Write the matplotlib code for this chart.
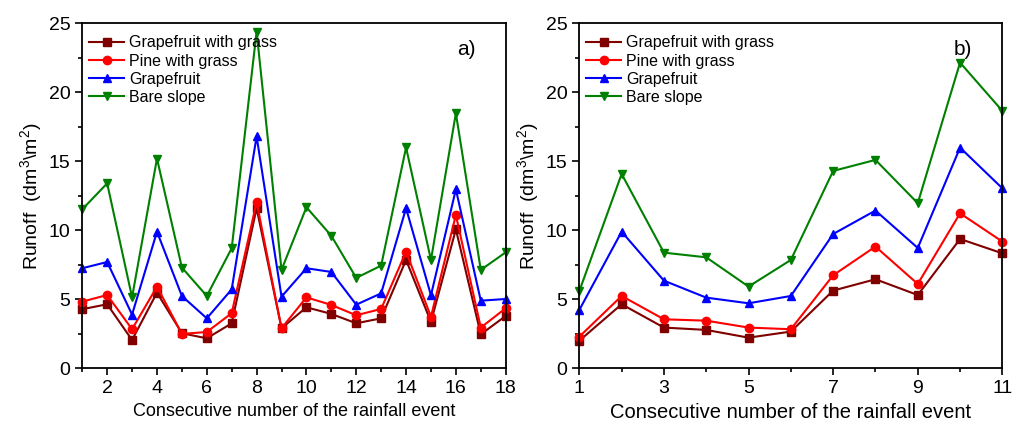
import numpy as np
import matplotlib
matplotlib.use("Agg")
import matplotlib.pyplot as plt
from matplotlib.ticker import MultipleLocator

plt.rcParams["font.family"] = ["Liberation Sans", "DejaVu Sans"]
plt.rcParams["mathtext.fontset"] = "custom"
plt.rcParams["mathtext.rm"] = "Liberation Sans"

# panel a)
events_a = np.arange(1, 19)
gwg_a = [4.28, 4.64, 2.05, 5.48, 2.54, 2.17, 3.26, 11.6, 2.9, 4.42, 3.94, 3.26, 3.62, 7.85, 3.36, 10.07, 2.46, 3.79]
pwg_a = [4.83, 5.31, 2.83, 5.92, 2.49, 2.63, 3.99, 12.05, 2.9, 5.14, 4.59, 3.84, 4.3, 8.45, 3.74, 11.11, 2.95, 4.35]
gf_a = [7.25, 7.7, 3.89, 9.9, 5.24, 3.62, 5.72, 16.8, 5.19, 7.25, 6.98, 4.61, 5.43, 11.6, 5.29, 12.97, 4.9, 5.02]
bare_a = [11.52, 13.4, 5.14, 15.2, 7.3, 5.24, 8.7, 24.4, 7.13, 11.67, 9.6, 6.55, 7.44, 16.0, 7.85, 18.48, 7.13, 8.4]

# panel b)
events_b = np.arange(1, 12)
gwg_b = [2.0, 4.64, 2.95, 2.78, 2.22, 2.66, 5.63, 6.45, 5.31, 9.37, 8.33]
pwg_b = [2.29, 5.24, 3.55, 3.45, 2.95, 2.83, 6.74, 8.82, 6.11, 11.23, 9.18]
gf_b = [4.23, 9.9, 6.35, 5.12, 4.71, 5.24, 9.73, 11.43, 8.72, 15.99, 13.04]
bare_b = [5.6, 14.08, 8.38, 8.04, 5.92, 7.85, 14.3, 15.1, 11.96, 22.15, 18.65]

labels = ["Grapefruit with grass", "Pine with grass", "Grapefruit", "Bare slope"]
colors = ["#800000", "#ff0000", "#0000ff", "#008000"]
markers = ["s", "o", "^", "v"]

fig = plt.figure(figsize=(10.13, 4.24), dpi=100)
ax1 = fig.add_axes([0.0812, 0.1314, 0.418, 0.8137])
ax2 = fig.add_axes([0.5719, 0.1314, 0.4176, 0.8137])

panels = [
    (ax1, events_a, [gwg_a, pwg_a, gf_a, bare_a], "a)", 13, 14),
    (ax2, events_b, [gwg_b, pwg_b, gf_b, bare_b], "b)", 14.5, 14),
]

for ax, x, series, tag, xlab_size, ylab_size in panels:
    for vals, lab, c, m in zip(series, labels, colors, markers):
        ax.plot(x, vals, color=c, marker=m, markersize=6, linewidth=1.5, label=lab, clip_on=False)
    ax.set_xlim(x[0], x[-1])
    ax.set_ylim(0, 25)
    ax.yaxis.set_major_locator(MultipleLocator(5))
    ax.yaxis.set_minor_locator(MultipleLocator(2.5))
    ax.xaxis.set_major_locator(MultipleLocator(2))
    ax.xaxis.set_minor_locator(MultipleLocator(1))
    ax.tick_params(which="both", direction="out", top=False, right=False, width=1.2, labelsize=14)
    ax.tick_params(which="major", length=5)
    ax.tick_params(which="minor", length=3)
    for sp in ax.spines.values():
        sp.set_linewidth(1.3)
    ax.set_xlabel("Consecutive number of the rainfall event", fontsize=xlab_size, labelpad=4)
    ax.set_ylabel("Runoff  (dm$^3$\\m$^2$)", fontsize=ylab_size, labelpad=3)
    ax.text(0.885, 0.925, tag, transform=ax.transAxes, fontsize=15, ha="left", va="center")
    ax.legend(loc="upper left", bbox_to_anchor=(0.016, 0.965), frameon=False, fontsize=11.5,
              handlelength=2.2, handletextpad=0.3, labelspacing=0.2, borderpad=0, borderaxespad=0)

ax1.set_xticks(np.arange(2, 19, 2))
ax2.set_xticks(np.arange(1, 12, 2))

fig.savefig("out.png", dpi=100)
